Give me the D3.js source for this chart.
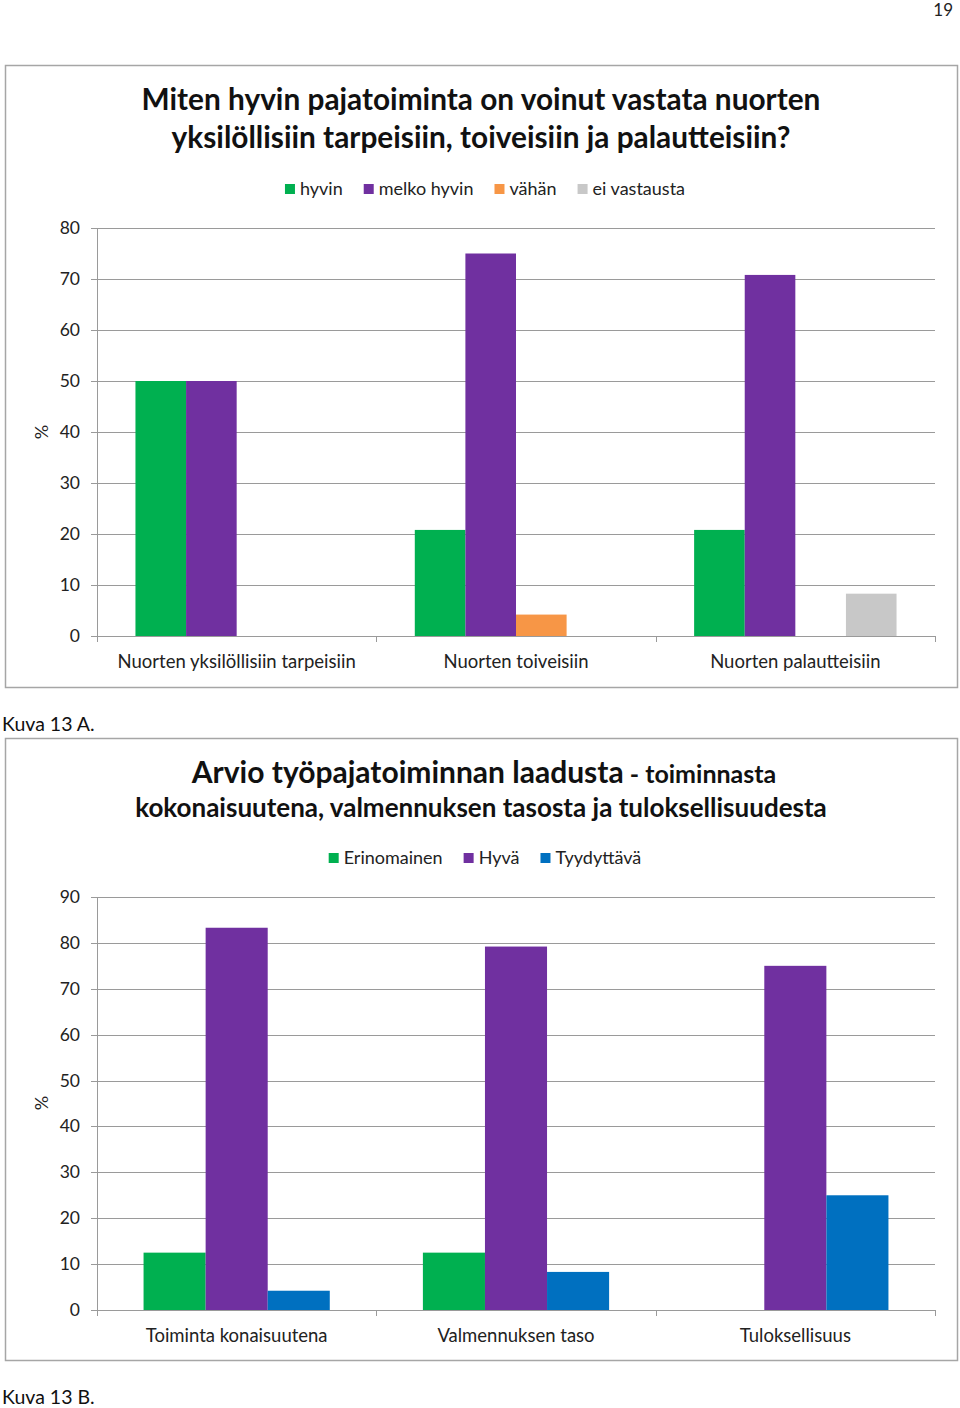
<!DOCTYPE html>
<html><head><meta charset="utf-8">
<script src="https://cdn.jsdelivr.net/npm/d3@7"></script>
<style>body{margin:0;background:#fff;} svg{display:block;font-family:Lato,"Open Sans",sans-serif;}</style>
</head><body>
<svg id="c" width="960" height="1408"></svg>
<script>
// Chart A data
const catsA = ["Nuorten yksilöllisiin tarpeisiin", "Nuorten toiveisiin", "Nuorten palautteisiin"];
const seriesA = ["hyvin", "melko hyvin", "vähän", "ei vastausta"];
const hyvin = [50, 20.8, 20.8];
const melkoHyvin = [50, 75, 70.8];
const vahan = [0, 4.2, 0];
const eiVastausta = [0, 0, 8.3];
const colorsA = ["#00b050", "#7030a0", "#f79646", "#c8c8c8"];
const ticksA = [0, 10, 20, 30, 40, 50, 60, 70, 80];
// Chart B data
const catsB = ["Toiminta konaisuutena", "Valmennuksen taso", "Tuloksellisuus"];
const seriesB = ["Erinomainen", "Hyvä", "Tyydyttävä"];
const erinomainen = [12.5, 12.5, 0];
const hyva = [83.3, 79.2, 75];
const tyydyttava = [4.2, 8.3, 25];
const colorsB = ["#00b050", "#7030a0", "#0070c0"];
const ticksB = [0, 10, 20, 30, 40, 50, 60, 70, 80, 90];

const svg = d3.select("#c");
svg.append("text").attr("x", 953).attr("y", 16).attr("text-anchor", "end")
  .attr("font-size", 17).attr("fill", "#222").text("19");

function drawChart(opt) {
  const g = svg.append("g");
  g.append("rect").attr("x", 5.5).attr("y", opt.top + 0.5).attr("width", 952).attr("height", 622)
    .attr("fill", "#fff").attr("stroke", "#a6a6a6").attr("stroke-width", 1.5);
  opt.title(g);
  // legend
  const leg = g.append("g");
  let x = 0;
  opt.series.forEach((s, i) => {
    const it = leg.append("g").attr("transform", `translate(${x},0)`);
    it.append("rect").attr("x", 0).attr("y", -11).attr("width", 10).attr("height", 10).attr("fill", opt.colors[i]);
    const t = it.append("text").attr("x", 15).attr("y", 0).attr("font-size", 18).attr("fill", "#222").text(s);
    x += 15 + t.node().getComputedTextLength() + opt.legGap;
  });
  const lw = x - opt.legGap;
  leg.attr("transform", `translate(${opt.legCenter - lw / 2},${opt.legY})`);

  const y = d3.scaleLinear().domain([0, opt.ymax]).range([opt.y0, opt.y1]);
  const x0 = d3.scaleBand().domain(opt.cats).range([97, 935]).paddingInner(0).paddingOuter(0);
  const inner = opt.series.length;
  const x1 = d3.scaleBand().domain(d3.range(inner)).range([0, x0.bandwidth()]).paddingOuter(opt.pad);

  // grid
  g.append("g").selectAll("line").data(opt.ticks.slice(1)).join("line")
    .attr("x1", 91).attr("x2", 935).attr("y1", d => Math.round(y(d)) + 0.5).attr("y2", d => Math.round(y(d)) + 0.5)
    .attr("stroke", "#9a9a9a").attr("stroke-width", 1);
  // tick labels
  g.append("g").selectAll("text").data(opt.ticks).join("text")
    .attr("x", 80).attr("y", d => y(d) + 6).attr("text-anchor", "end").attr("font-size", 17.5).attr("fill", "#222").text(d => d);
  // y axis line
  g.append("line").attr("x1", 97.5).attr("x2", 97.5).attr("y1", y(opt.ymax)).attr("y2", y(0)).attr("stroke", "#9a9a9a");
  // bars
  opt.values.forEach((vals, si) => {
    g.append("g").selectAll("rect").data(vals).join("rect")
      .attr("x", (d, i) => x0(opt.cats[i]) + x1(si))
      .attr("width", x1.bandwidth())
      .attr("y", d => y(d))
      .attr("height", d => y(0) - y(d))
      .attr("fill", opt.colors[si]);
  });
  // x axis
  const xa = g.append("g");
  xa.append("line").attr("x1", 91).attr("x2", 935).attr("y1", Math.round(y(0)) + 0.5).attr("y2", Math.round(y(0)) + 0.5).attr("stroke", "#9a9a9a");
  const bounds = [97, 97 + x0.bandwidth(), 97 + 2 * x0.bandwidth(), 935];
  xa.selectAll("line.t").data(bounds).join("line").attr("class", "t")
    .attr("x1", d => Math.round(d) + 0.5).attr("x2", d => Math.round(d) + 0.5)
    .attr("y1", y(0)).attr("y2", y(0) + 6).attr("stroke", "#9a9a9a");
  xa.selectAll("text").data(opt.cats).join("text")
    .attr("x", d => x0(d) + x0.bandwidth() / 2).attr("y", y(0) + 32)
    .attr("text-anchor", "middle").attr("font-size", 18.5).attr("fill", "#222").text(d => d);
  // y title
  g.append("text").attr("transform", `translate(48,${opt.pctY}) rotate(-90)`)
    .attr("text-anchor", "middle").attr("font-size", 18).attr("fill", "#222").text("%");
}

drawChart({
  top: 65, cats: catsA, series: seriesA, colors: colorsA, ticks: ticksA, ymax: 80,
  values: [hyvin, melkoHyvin, vahan, eiVastausta], y0: 636, y1: 228, pad: 0.76, pctY: 432,
  legY: 195, legCenter: 485, legGap: 21,
  title: g => {
    g.append("text").attr("x", 481).attr("y", 110).attr("text-anchor", "middle").attr("font-size", 29.8)
      .attr("font-weight", "bold").attr("fill", "#111").text("Miten hyvin pajatoiminta on voinut vastata nuorten");
    g.append("text").attr("x", 481).attr("y", 148).attr("text-anchor", "middle").attr("font-size", 29.8)
      .attr("font-weight", "bold").attr("fill", "#111").text("yksilöllisiin tarpeisiin, toiveisiin ja palautteisiin?");
  }
});
svg.append("text").attr("x", 2).attr("y", 731).attr("font-size", 19.5).attr("fill", "#111").text("Kuva 13 A.");

drawChart({
  top: 738, cats: catsB, series: seriesB, colors: colorsB, ticks: ticksB, ymax: 90,
  values: [erinomainen, hyva, tyydyttava], y0: 1310, y1: 897, pad: 0.75, pctY: 1103,
  legY: 864, legCenter: 485, legGap: 21,
  title: g => {
    const t = g.append("text").attr("x", 484).attr("y", 783).attr("text-anchor", "middle")
      .attr("font-weight", "bold").attr("fill", "#111");
    t.append("tspan").attr("font-size", 30).text("Arvio työpajatoiminnan laadusta");
    t.append("tspan").attr("font-size", 25).text(" - toiminnasta");
    g.append("text").attr("x", 481).attr("y", 817).attr("text-anchor", "middle").attr("font-size", 26)
      .attr("font-weight", "bold").attr("fill", "#111").text("kokonaisuutena, valmennuksen tasosta ja tuloksellisuudesta");
  }
});
svg.append("text").attr("x", 2).attr("y", 1404).attr("font-size", 19.5).attr("fill", "#111").text("Kuva 13 B.");
</script>
</body></html>
